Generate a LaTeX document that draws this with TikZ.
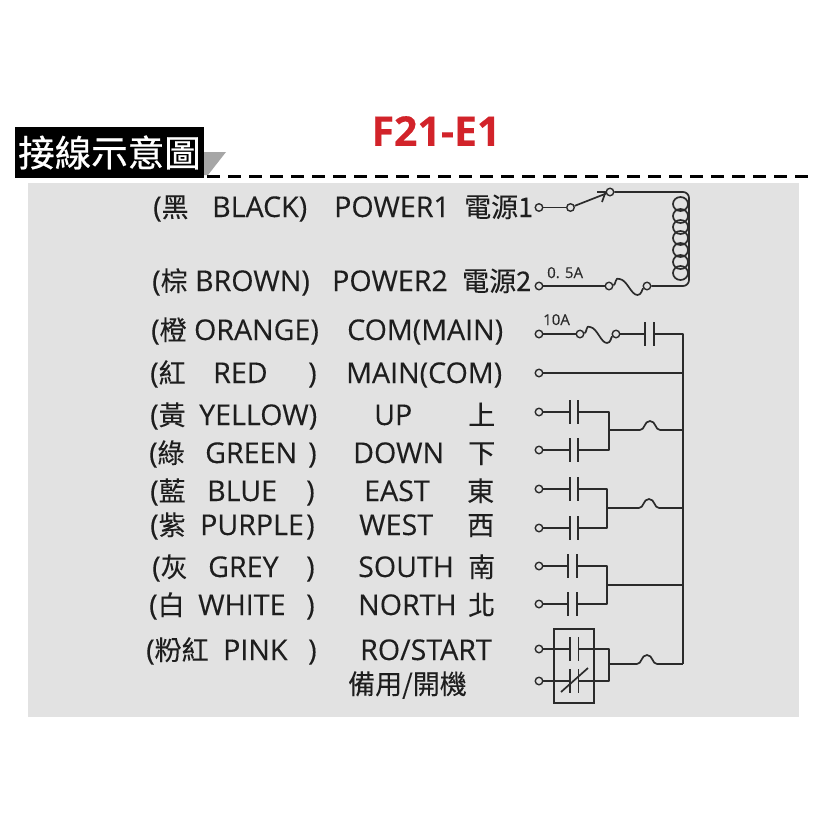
\documentclass[tikz,border=0pt]{standalone}
\usepackage{fontspec}
\setmainfont{Open Sans}[FakeBold=0.2]
\newfontfamily\titlefont{Open Sans Bold}[FakeBold=0.3]
\newfontfamily\cjk{Noto Sans CJK TC}[FakeBold=0.15]
\newfontfamily\cjkh{Noto Sans CJK TC}[FakeBold=0.6]
\newcommand{\cj}[1]{{\cjk\fontsize{27}{30}\selectfont #1}}
\definecolor{panel}{HTML}{E2E2E2}
\definecolor{wire}{HTML}{2B2B2B}
\definecolor{ink}{HTML}{1E1E1E}
\definecolor{titlered}{HTML}{D2232A}
\tikzset{
  lab/.style={anchor=base west,inner sep=0pt,text=ink,font=\fontsize{28.6}{30}\selectfont},
  small/.style={anchor=base west,inner sep=0pt,text=wire,font=\fontsize{15}{16}\selectfont},
  term/.style={circle,draw=wire,line width=1.4pt,fill=panel,inner sep=0pt,minimum size=7.5pt},
  wr/.style={draw=wire,line width=1.7pt,line join=round},
}
\newcommand{\contact}[4]{% name, x-left, x-right, y
  \coordinate (#1-l) at (#2,#4);
  \coordinate (#1-r) at (#3,#4);
  \draw[wr] (#2,#4-12) -- (#2,#4+12);
  \draw[wr] (#3,#4-12) -- (#3,#4+12);
}
\newcommand{\hump}[2]{% from, to
  \draw[wr] (#1) .. controls ($(#1)+(5,0)$) and ($(#1)+(4,-9)$) .. ($(#1)!0.5!(#2)+(0,-9)$)
     .. controls ($(#2)+(-4,-9)$) and ($(#2)+(-5,0)$) .. (#2);
}
\newcommand{\fuse}[2]{% from node, to node
  \draw[wr] (#1) .. controls ($(#1)+(7,-1)$) and ($(#1)+(6,-10)$) .. ($(#1)!0.28!(#2)+(0,-7)$)
     .. controls ($(#1)!0.48!(#2)+(0,-6)$) and ($(#1)!0.58!(#2)+(0,9)$) .. ($(#1)!0.75!(#2)+(0,9)$)
     .. controls ($(#1)!0.86!(#2)+(0,9)$) and ($(#2)+(-5,3)$) .. (#2);
}
\usetikzlibrary{calc}
\begin{document}
\begin{tikzpicture}[x=1pt,y=-1pt]
\useasboundingbox (0,0) rectangle (815,815);
\fill[white] (0,0) rectangle (815,815);
\fill[panel] (28,183) rectangle (799,717);
% header
\fill[black!35] (204,152) -- (226,152) -- (208,175) -- (204,175) -- cycle;
\draw[black,line width=2.4pt,dash pattern=on 13pt off 8pt] (207,176.5) -- (808,176.5);
\node[fill=black,text=white,inner sep=0pt,minimum width=189pt,minimum height=51pt,font=\cjkh\fontsize{36.5}{38}\selectfont] (head) at (109.5,152.5) {接線示意圖};
\node[text=titlered,inner sep=0pt,font=\titlefont\fontsize{41}{44}\selectfont] (title) at (436,131) {F21-E1};
% labels
\foreach \x/\y/\t [count=\i] in {
 153/217/{(\cj{黑}},212/217/{BLACK)},334/217/{POWER1},464/217/{\cj{電源1}},
 152/291/{(\cj{棕} BROWN)},332/291/{POWER2},462/291/{\cj{電源2}},
 151/340/{(\cj{橙} ORANGE)},347/340/{COM(MAIN)},
 150/383/{(\cj{紅}},213/383/{RED},308/383/{)},346/383/{MAIN(COM)},
 150/425/{(\cj{黃}},199/425/{YELLOW)},374/425/{UP},468/425/{\cj{上}},
 149/463/{(\cj{綠}},205/463/{GREEN},308/463/{)},353/463/{DOWN},468/463/{\cj{下}},
 150/501/{(\cj{藍}},207/501/{BLUE},306/501/{)},364/501/{EAST},467/501/{\cj{東}},
 150/535/{(\cj{紫}},200/535/{PURPLE},306/535/{)},359/535/{WEST},467/535/{\cj{西}},
 152/577/{(\cj{灰}},208/577/{GREY},306/577/{)},358/577/{SOUTH},468/577/{\cj{南}},
 149/615/{(\cj{白}},198/615/{WHITE},306/615/{)},358/615/{NORTH},468/615/{\cj{北}},
 146/660/{(\cj{粉紅}},223/660/{PINK},308/660/{)},360/660/{{RO/START}},
 348/694/{\cj{備用/開機}}
}{ \node[lab] (t\i) at (\x,\y) {\t}; }
\node[small] (amp1) at (547,278) {0. 5A};
\node[small] (amp2) at (543,325) {10A};
% power circuit
\node[term] (p1) at (539,207.5) {};
\node[term] (p1b) at (570.5,207.5) {};
\node[term] (p1c) at (610,192) {};
\node[term] (p2) at (539,286) {};
\node[term] (p2b) at (609,286) {};
\node[term] (p2c) at (647,286) {};
\draw[wr] (p1) -- (p1b);
\draw[wr] (p1b) -- (p1c);
\draw[wr] (597,192) -- (p1c.west) -- (602,202);
\draw[wr,rounded corners=6pt] (p1c) -- (689,192) -- (689,286) -- (p2c);
\foreach \yy in {204,216,227,238,250,262,273}
  \draw[wr] (680.5,\yy) ellipse [x radius=7.5, y radius=7];
\draw[wr] (p2) -- (p2b);
\fuse{p2b}{p2c}
% COM
\node[term] (c1) at (539,334) {};
\node[term] (c1b) at (580,334) {};
\node[term] (c1c) at (616,334) {};
\coordinate (bustop) at (683,334);
\coordinate (busbot) at (683,664);
\draw[wr] (c1) -- (c1b);
\fuse{c1b}{c1c}
\contact{cc}{645}{654}{334}
\draw[wr] (c1c) -- (cc-l);
\draw[wr] (cc-r) -- (bustop) -- (busbot);
% MAIN
\node[term] (m1) at (539,373) {};
\coordinate (mbus) at (683,373);
\draw[wr] (m1) -- (mbus);
% UP / DOWN
\node[term] (u1) at (539,412) {};
\node[term] (d1) at (539,450) {};
\contact{cu}{570}{578}{412}
\contact{cd}{570}{578}{450}
\coordinate (ud) at (609,430); \coordinate (udh1) at (640,430); \coordinate (udh2) at (660,430); \coordinate (udb) at (683,430);
\draw[wr] (u1) -- (cu-l);
\draw[wr] (d1) -- (cd-l);
\draw[wr] (cu-r) -- (609,412) -- (609,450) -- (cd-r);
\draw[wr] (ud) -- (udh1);
\hump{udh1}{udh2}
\draw[wr] (udh2) -- (udb);
% EAST / WEST
\node[term] (e1) at (539,489) {};
\node[term] (w1) at (539,528) {};
\contact{ce}{570}{578}{489}
\contact{cw}{570}{578}{528}
\coordinate (ew) at (607,508); \coordinate (ewh1) at (639,508); \coordinate (ewh2) at (659,508); \coordinate (ewb) at (683,508);
\draw[wr] (e1) -- (ce-l);
\draw[wr] (w1) -- (cw-l);
\draw[wr] (ce-r) -- (607,489) -- (607,528) -- (cw-r);
\draw[wr] (ew) -- (ewh1);
\hump{ewh1}{ewh2}
\draw[wr] (ewh2) -- (ewb);
% SOUTH / NORTH
\node[term] (s1) at (539,566) {};
\node[term] (n1) at (539,604) {};
\contact{cs}{568}{577}{566}
\contact{cn}{568}{577}{604}
\coordinate (sn) at (607,585); \coordinate (snb) at (683,585);
\draw[wr] (s1) -- (cs-l);
\draw[wr] (n1) -- (cn-l);
\draw[wr] (cs-r) -- (607,566) -- (607,604) -- (cn-r);
\draw[wr,line width=2.4pt] (sn) -- (snb);
% RO/START
\node[draw=wire,line width=1.7pt,inner sep=0pt,minimum width=40pt,minimum height=74pt] (rbox) at (574,666) {};
\node[term] (r1) at (539,649) {};
\node[term] (r2) at (539,681) {};
\contact{cr}{570}{578.5}{649}
\contact{cx}{570}{578.5}{681}
\coordinate (rj) at (609,664); \coordinate (rh1) at (637,664); \coordinate (rh2) at (657,664);
\draw[wr] (r1) -- (cr-l);
\draw[wr] (r2) -- (cx-l);
\draw[wr] (cr-r) -- (609,649) -- (609,681) -- (cx-r);
\draw[wr] (561,692) -- (588,668);
\draw[wr] (rj) -- (rh1);
\hump{rh1}{rh2}
\draw[wr] (rh2) -- (busbot);
\end{tikzpicture}
\end{document}
